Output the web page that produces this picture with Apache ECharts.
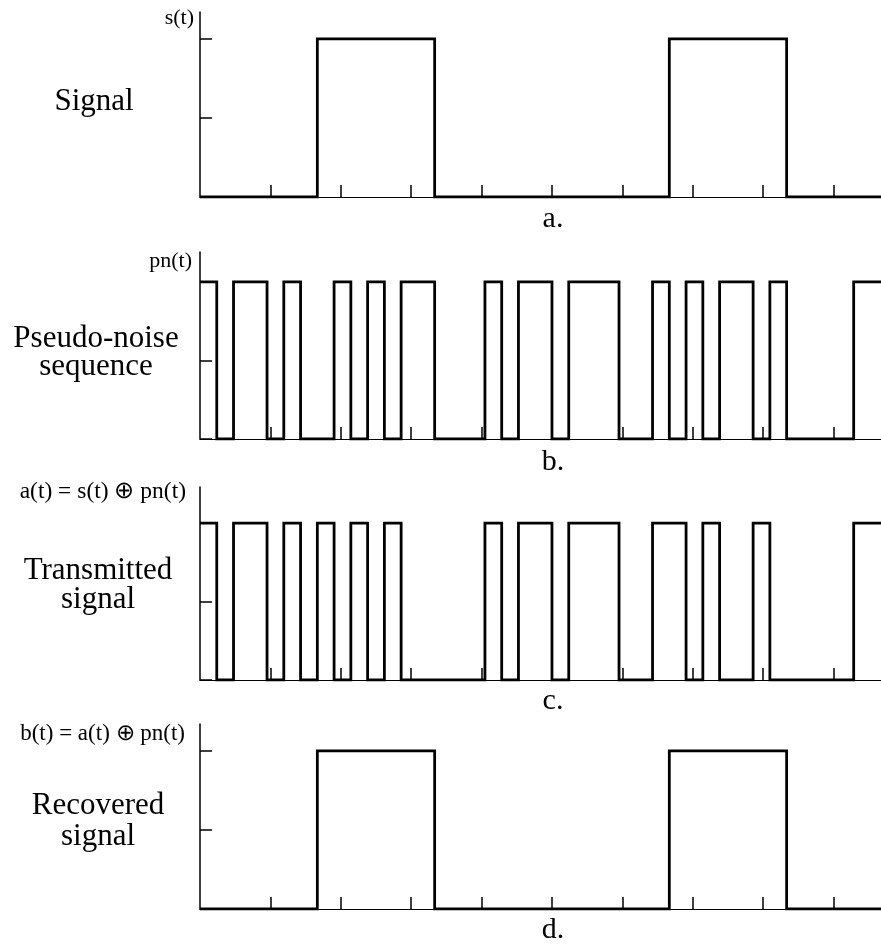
<!DOCTYPE html>
<html>
<head>
<meta charset="utf-8">
<script src="https://cdn.jsdelivr.net/npm/echarts@6/dist/echarts.min.js"></script>
<style>
  html, body { margin: 0; padding: 0; background: #fff; }
  #chart { width: 881px; height: 949px; }
</style>
</head>
<body>
<div id="chart"></div>
<script>
// ---- data ----
// signal bits (each bit lasts 7 chips)
const signalBits = [0, 1, 0, 0, 1, 0];
// pseudo-noise chips
const pnChips = [1,0,1,1,0,1,0,0,1,0,1,0,1,1,0,0,0,1,0,1,1,0,1,1,1,0,0,1,0,1,0,1,1,0,1,0,0,0,0,1,1];
// transmitted signal chips a(t)
const transmittedChips = [1,0,1,1,0,1,0,1,0,1,0,1,0,0,0,0,0,1,0,1,1,0,1,1,1,0,0,1,1,0,1,0,0,1,0,0,0,0,0,1,1];
// recovered signal bits b(t)
const recoveredBits = [0, 1, 0, 0, 1, 0];
const chipsPerBit = 7;
// x-axis tick positions (in chips) and y-axis tick values
const xTickValues = [4.2, 8.4, 12.6, 16.8, 21, 25.2, 29.4, 33.6, 37.8];
const yTickValues = [0, 0.5, 1];
const axisTitles = ['s(t)', 'pn(t)', 'a(t) = s(t) \u2295 pn(t)', 'b(t) = a(t) \u2295 pn(t)'];
const panelNames = [['Signal'], ['Pseudo-noise', 'sequence'], ['Transmitted', 'signal'], ['Recovered', 'signal']];
const panelLetters = ['a.', 'b.', 'c.', 'd.'];

// ---- build step data ----
function stepData(levels, width) {
  const pts = levels.map((v, i) => [i * width, v]);
  pts.push([levels.length * width, levels[levels.length - 1]]);
  return pts;
}
const seriesLevels = [
  stepData(signalBits, chipsPerBit),
  stepData(pnChips, 1),
  stepData(transmittedChips, 1),
  stepData(recoveredBits, chipsPerBit)
];

// ---- layout ----
const grids = [
  { left: 200, right: 0, top: 12, height: 185 },
  { left: 200, right: 0, top: 252, height: 187 },
  { left: 200, right: 0, top: 487, height: 193 },
  { left: 200, right: 0, top: 724, height: 185 }
];
const yMax = [1.17, 1.19, 1.23, 1.17];
const xMax = 40.63;
const serif = '"Liberation Serif", "Times New Roman", serif';

const option = {
  backgroundColor: '#fff',
  animation: false,
  grid: grids,
  xAxis: grids.map((g, i) => ({
    type: 'value', gridIndex: i, min: 0, max: xMax, interval: 4.2,
    axisLine: { show: true, onZero: false, lineStyle: { color: '#000', width: 1.2 } },
    axisTick: { show: true, inside: true, length: 12, customValues: xTickValues, lineStyle: { color: '#000', width: 1.5 } },
    axisLabel: { show: false },
    splitLine: { show: false }
  })),
  yAxis: grids.map((g, i) => ({
    type: 'value', gridIndex: i, min: 0, max: yMax[i], interval: 0.5,
    axisLine: { show: true, lineStyle: { color: '#000', width: 1.5 } },
    axisTick: { show: true, inside: true, length: 12, customValues: yTickValues, lineStyle: { color: '#000', width: 1.5 } },
    axisLabel: { show: false },
    splitLine: { show: false }
  })),
  series: seriesLevels.map((d, i) => ({
    type: 'line', xAxisIndex: i, yAxisIndex: i, step: 'end',
    data: d, symbol: 'none', clip: true,
    lineStyle: { color: '#000', width: 2.8, join: 'miter' }
  })),
  graphic: []
};

// titles at the top of y-axes
const titleY = [18, 261, 492, 734];
const titleX = [194, 192, 186, 185];
const titleSize = [22, 22, 23.5, 23];
axisTitles.forEach((t, i) => {
  option.graphic.push({ type: 'text', x: titleX[i], y: titleY[i],
    style: { text: t, font: titleSize[i] + 'px ' + serif, fill: '#000', textAlign: 'right', textVerticalAlign: 'middle' } });
});
// panel names
const nameX = [94, 96, 98, 98];
const nameY = [[102], [339, 367], [571, 600], [806, 837]];
panelNames.forEach((lines, i) => {
  lines.forEach((t, j) => {
    option.graphic.push({ type: 'text', x: nameX[i], y: nameY[i][j],
      style: { text: t, font: '31px ' + serif, fill: '#000', textAlign: 'center', textVerticalAlign: 'middle' } });
  });
});
// panel letters
const letterY = [219, 462, 701, 930];
panelLetters.forEach((t, i) => {
  option.graphic.push({ type: 'text', x: 553, y: letterY[i],
    style: { text: t, font: '30px ' + serif, fill: '#000', textAlign: 'center', textVerticalAlign: 'middle' } });
});

const chart = echarts.init(document.getElementById('chart'), null, { renderer: 'canvas' });
chart.setOption(option);
</script>
</body>
</html>
